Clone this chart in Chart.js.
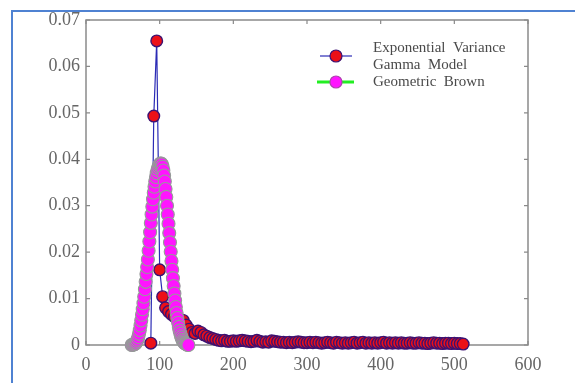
<!DOCTYPE html>
<html><head><meta charset="utf-8">
<script src="https://cdn.jsdelivr.net/npm/chart.js@4/dist/chart.umd.min.js"></script>
<style>html,body{margin:0;padding:0;background:#fff}canvas{display:block}</style>
</head><body>
<canvas id="c" width="575" height="383"></canvas>
<script>
const seriesNames = [['Exponential  Variance', 'Gamma  Model'], ['Geometric  Brown']];
const xTickValues = [0, 100, 200, 300, 400, 500, 600];
const xTickLabels = ['0', '100', '200', '300', '400', '500', '600'];
const yTickValues = [0, 0.01, 0.02, 0.03, 0.04, 0.05, 0.06, 0.07];
const yTickLabels = ['0', '0.01', '0.02', '0.03', '0.04', '0.05', '0.06', '0.07'];

// Exponential Variance Gamma Model
const evgX = [88, 92, 96, 100, 104, 108, 112, 116, 120, 124, 128, 132,
  136, 140, 144, 148, 152, 156, 160, 164, 168, 172, 176, 180,
  184, 188, 192, 196, 200, 204, 208, 212, 216, 220, 224, 228,
  232, 236, 240, 244, 248, 252, 256, 260, 264, 268, 272, 276,
  280, 284, 288, 292, 296, 300, 304, 308, 312, 316, 320, 324,
  328, 332, 336, 340, 344, 348, 352, 356, 360, 364, 368, 372,
  376, 380, 384, 388, 392, 396, 400, 404, 408, 412, 416, 420,
  424, 428, 432, 436, 440, 444, 448, 452, 456, 460, 464, 468,
  472, 476, 480, 484, 488, 492, 496, 500, 504, 508, 512];
const evgY = [0.0004, 0.0493, 0.0655, 0.0162, 0.0104, 0.0080, 0.0072, 0.0066, 0.0061, 0.0058, 0.0055, 0.0053,
  0.0043, 0.0034, 0.0027, 0.0025, 0.0030, 0.0027, 0.0022, 0.0019, 0.0016, 0.0014, 0.0012, 0.0010,
  0.0009, 0.0010, 0.0008, 0.0008, 0.0009, 0.0008, 0.0009, 0.0010, 0.0009, 0.0008, 0.0007, 0.0008,
  0.0010, 0.0008, 0.0006, 0.0007, 0.0006, 0.0009, 0.0008, 0.0007, 0.0006, 0.0006, 0.0005, 0.0006,
  0.0005, 0.0006, 0.0007, 0.0006, 0.0005, 0.0005, 0.0006, 0.0005, 0.0006, 0.0005, 0.0004, 0.0005,
  0.0006, 0.0005, 0.0004, 0.0006, 0.0005, 0.0004, 0.0005, 0.0004, 0.0005, 0.0006, 0.0004, 0.0005,
  0.0006, 0.0004, 0.0005, 0.0004, 0.0005, 0.0004, 0.0005, 0.0006, 0.0004, 0.0005, 0.0004, 0.0005,
  0.0004, 0.0005, 0.0004, 0.0004, 0.0005, 0.0004, 0.0004, 0.0005, 0.0004, 0.0004, 0.0003, 0.0004,
  0.0005, 0.0004, 0.0004, 0.0003, 0.0004, 0.0004, 0.0003, 0.0004, 0.0003, 0.0003, 0.0002];

// Geometric Brown
const gbX = [62, 63, 64, 65, 66, 67, 68, 69, 70, 71, 72, 73, 74, 75, 76, 77, 78, 79, 80,
  81, 82, 83, 84, 85, 86, 87, 88, 89, 90, 91, 92, 93, 94, 95, 96, 97, 98, 99, 100,
  101, 102, 103, 104, 105, 106, 107, 108, 109, 110, 111, 112, 113, 114, 115, 116, 117, 118, 119, 120,
  121, 122, 123, 124, 125, 126, 127, 128, 129, 130, 131, 132, 133, 134, 135, 136, 137, 138, 139];
const gbY = [0.0000, 0.0000, 0.0001, 0.0001, 0.0002, 0.0003, 0.0005, 0.0008, 0.0012, 0.0017, 0.0024, 0.0032, 0.0042, 0.0053, 0.0065, 0.0077, 0.0090, 0.0104, 0.0120,
  0.0136, 0.0153, 0.0168, 0.0184, 0.0203, 0.0223, 0.0243, 0.0263, 0.0281, 0.0298, 0.0314, 0.0328, 0.0341, 0.0352, 0.0362, 0.0370, 0.0377, 0.0382, 0.0386, 0.0389,
  0.0391, 0.0391, 0.0389, 0.0384, 0.0376, 0.0365, 0.0352, 0.0336, 0.0319, 0.0300, 0.0281, 0.0261, 0.0241, 0.0221, 0.0201, 0.0181, 0.0162, 0.0144, 0.0127, 0.0111,
  0.0096, 0.0082, 0.0069, 0.0058, 0.0048, 0.0039, 0.0031, 0.0025, 0.0019, 0.0015, 0.0011, 0.0008, 0.0006, 0.0004, 0.0003, 0.0002, 0.0001, 0.0000, 0.0000];

const toPts = (xs, ys) => xs.map((x, i) => ({x: x, y: ys[i]}));

const styles = [
  {line: '#2b2bb5', lineWidth: 1.2, fill: '#ec1018', edge: '#3c1272'},
  {line: '#22ee22', lineWidth: 3, fill: '#ff14ff', edge: '#959c98'}
];

const tickFont = {family: '"Liberation Serif", "Times New Roman", serif', size: 18};
const axisColor = '#8a8a8a';

const pagePlugin = {
  id: 'page',
  beforeDraw(chart) {
    const ctx = chart.ctx;
    ctx.save();
    ctx.fillStyle = '#fff';
    ctx.fillRect(0, 0, chart.width, chart.height);
    ctx.strokeStyle = '#4f82d2';
    ctx.lineWidth = 2;
    ctx.beginPath();
    ctx.moveTo(12, chart.height + 2);
    ctx.lineTo(12, 11);
    ctx.lineTo(chart.width + 2, 11);
    ctx.stroke();
    ctx.restore();
  },
  beforeDatasetsDraw(chart) {
    const ctx = chart.ctx, a = chart.chartArea;
    const xs = chart.scales.x, ys = chart.scales.y;
    ctx.save();
    ctx.strokeStyle = axisColor;
    ctx.lineWidth = 1.5;
    ctx.strokeRect(a.left, a.top, a.right - a.left, a.bottom - a.top);
    ctx.lineWidth = 1.2;
    ctx.beginPath();
    const tl = 4;
    xs.ticks.forEach(t => {
      const px = xs.getPixelForValue(t.value);
      ctx.moveTo(px, a.bottom); ctx.lineTo(px, a.bottom - tl);
      ctx.moveTo(px, a.top); ctx.lineTo(px, a.top + tl);
    });
    ys.ticks.forEach(t => {
      const py = ys.getPixelForValue(t.value);
      ctx.moveTo(a.left, py); ctx.lineTo(a.left + tl, py);
      ctx.moveTo(a.right, py); ctx.lineTo(a.right - tl, py);
    });
    ctx.stroke();
    ctx.restore();
  },
  afterDraw(chart) {
    const ctx = chart.ctx;
    ctx.save();
    ctx.font = '15px "Liberation Serif", "Times New Roman", serif';
    ctx.textBaseline = 'middle';
    const entries = [
      {y: 56, x1: 320, x2: 352, textY: [48, 65]},
      {y: 82, x1: 317, x2: 354, textY: [82.5]}
    ];
    entries.forEach((e, i) => {
      const s = styles[i];
      ctx.strokeStyle = s.line;
      ctx.lineWidth = s.lineWidth;
      ctx.beginPath(); ctx.moveTo(e.x1, e.y); ctx.lineTo(e.x2, e.y); ctx.stroke();
      ctx.beginPath(); ctx.arc(336, e.y, 6, 0, Math.PI * 2);
      ctx.fillStyle = s.fill; ctx.fill();
      ctx.lineWidth = 1.2; ctx.strokeStyle = i === 0 ? s.edge : '#b040b0'; ctx.stroke();
      ctx.fillStyle = '#4a4a4a';
      seriesNames[i].forEach((t, k) => ctx.fillText(t, 373, e.textY[k]));
    });
    ctx.restore();
  }
};

new Chart(document.getElementById('c'), {
  type: 'scatter',
  data: {
    datasets: [
      {
        label: seriesNames[0].join(' '),
        data: toPts(evgX, evgY),
        showLine: true, order: 2, clip: false,
        borderColor: styles[0].line, borderWidth: styles[0].lineWidth,
        pointRadius: 5.8, pointBackgroundColor: styles[0].fill,
        pointBorderColor: styles[0].edge, pointBorderWidth: 1.4, tension: 0
      },
      {
        label: seriesNames[1].join(' '),
        data: toPts(gbX, gbY),
        showLine: true, order: 1, clip: false,
        borderColor: styles[1].line, borderWidth: styles[1].lineWidth,
        pointRadius: 6.5, pointBackgroundColor: styles[1].fill,
        pointBorderColor: styles[1].edge, pointBorderWidth: 1.1, tension: 0
      }
    ]
  },
  options: {
    responsive: false, animation: false, devicePixelRatio: 1,
    layout: {padding: {left: 0, right: 47, top: 20, bottom: 0}},
    plugins: {legend: {display: false}, tooltip: {enabled: false}},
    scales: {
      x: {
        type: 'linear', min: 0, max: 600,
        afterBuildTicks: s => { s.ticks = xTickValues.map(v => ({value: v})); },
        afterFit: s => { s.height = 38; },
        ticks: {callback: (v, i) => xTickLabels[i], font: tickFont, color: '#666', padding: 9, maxRotation: 0, autoSkip: false},
        grid: {display: false, drawTicks: false}, border: {display: false}
      },
      y: {
        type: 'linear', min: 0, max: 0.07,
        afterBuildTicks: s => { s.ticks = yTickValues.map(v => ({value: v})); },
        afterFit: s => { s.width = 86; },
        ticks: {callback: (v, i) => yTickLabels[i], font: tickFont, color: '#666', padding: 6, autoSkip: false},
        grid: {display: false, drawTicks: false}, border: {display: false}
      }
    }
  },
  plugins: [pagePlugin]
});
</script>
</body></html>
